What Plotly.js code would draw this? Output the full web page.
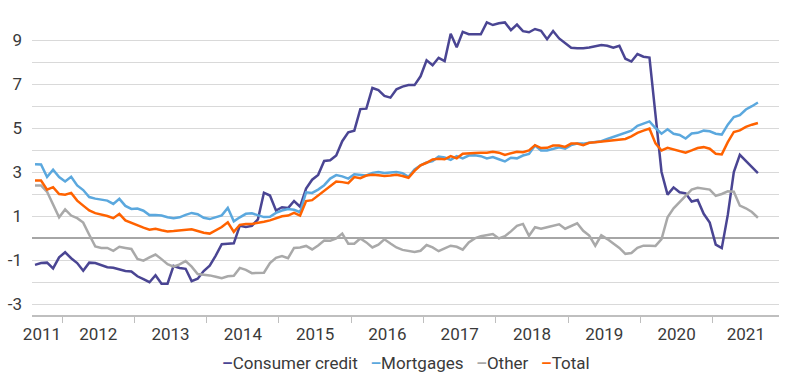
<!DOCTYPE html>
<html><head><meta charset="utf-8">
<script src="https://cdn.plot.ly/plotly-3.0.1.min.js"></script>
<style>html,body{margin:0;padding:0;background:#fff}#chart{width:800px;height:384px}</style>
</head><body><div id="chart"></div>
<script>
// Monthly data, first month Aug 2011, last month Aug 2021 (% YoY)
const firstYear = 2011;
const firstMonth = 8;
const lastAxisMonthIndex = 123; // axis runs through Nov 2021
const yearLabels = ['2011','2012','2013','2014','2015','2016','2017','2018','2019','2020','2021'];
const seriesNames = ['Consumer credit','Mortgages','Other','Total'];

const consumerCredit = [-1.22,-1.14,-1.12,-1.38,-0.88,-0.65,-0.92,-1.14,-1.49,-1.12,
 -1.14,-1.25,-1.33,-1.35,-1.43,-1.5,-1.52,-1.74,-1.87,-2.01,
 -1.69,-2.08,-2.08,-1.27,-1.36,-1.4,-1.96,-1.85,-1.5,-1.26,
 -0.8,-0.28,-0.26,-0.24,0.56,0.5,0.55,0.85,2.06,1.93,
 1.25,1.4,1.36,1.68,1.42,2.25,2.65,2.87,3.5,3.53,
 3.75,4.4,4.8,4.88,5.86,5.88,6.82,6.72,6.46,6.38,
 6.76,6.88,6.95,6.95,7.35,8.08,7.85,8.19,8.04,9.28,
 8.67,9.37,9.26,9.25,9.26,9.8,9.68,9.76,9.8,9.45,
 9.7,9.4,9.35,9.5,9.42,9.04,9.41,9.07,8.84,8.65,
 8.62,8.62,8.66,8.72,8.77,8.74,8.65,8.74,8.15,8.02,
 8.36,8.24,8.2,5.6,3.0,1.97,2.3,2.08,2.03,1.66,
 1.73,1.1,0.7,-0.3,-0.46,1.05,3.0,3.78,3.5,3.22,
 2.95];

const mortgages = [3.35,3.34,2.77,3.1,2.77,2.57,2.78,2.39,2.18,1.86,
 1.79,1.76,1.70,1.55,1.78,1.46,1.32,1.34,1.24,1.04,
 1.05,1.02,0.94,0.9,0.94,1.05,1.14,1.08,0.92,0.86,
 0.93,1.03,1.37,0.76,0.94,1.1,1.12,1.02,0.95,0.96,
 1.14,1.25,1.32,1.28,1.17,2.08,2.05,2.2,2.4,2.7,
 2.86,2.8,2.7,2.9,2.86,2.84,2.96,3.0,2.96,2.98,
 3.0,2.95,2.78,3.12,3.3,3.43,3.5,3.7,3.66,3.55,
 3.72,3.62,3.75,3.76,3.72,3.62,3.68,3.58,3.48,3.65,
 3.62,3.75,3.82,4.2,3.98,3.98,4.06,4.12,4.06,4.22,
 4.29,4.29,4.33,4.38,4.4,4.5,4.6,4.68,4.8,4.88,
 5.1,5.2,5.3,5.0,4.74,4.94,4.74,4.68,4.52,4.75,
 4.78,4.88,4.85,4.74,4.7,5.15,5.5,5.58,5.84,5.99,
 6.16];

const other = [2.39,2.39,2.1,1.5,0.94,1.3,1.02,0.9,0.7,0.15,
 -0.38,-0.45,-0.45,-0.58,-0.4,-0.45,-0.5,-0.95,-1.03,-0.88,
 -0.75,-0.96,-1.19,-1.3,-1.2,-1.05,-1.3,-1.64,-1.66,-1.7,
 -1.76,-1.83,-1.74,-1.72,-1.36,-1.45,-1.6,-1.6,-1.58,-1.14,
 -0.9,-0.82,-0.92,-0.45,-0.43,-0.36,-0.52,-0.34,-0.12,-0.13,
 -0.02,0.2,-0.26,-0.26,-0.02,-0.2,-0.43,-0.3,-0.06,-0.25,
 -0.43,-0.54,-0.6,-0.64,-0.58,-0.32,-0.43,-0.6,-0.47,-0.35,
 -0.4,-0.53,-0.2,-0.02,0.08,0.13,0.18,-0.02,0.08,0.3,
 0.55,0.64,0.1,0.49,0.42,0.49,0.56,0.62,0.42,0.56,
 0.67,0.33,0.11,-0.35,0.12,-0.05,-0.25,-0.45,-0.72,-0.68,
 -0.45,-0.35,-0.35,-0.36,-0.05,0.94,1.35,1.65,1.93,2.2,
 2.28,2.23,2.2,1.92,2.0,2.12,2.1,1.47,1.35,1.18,
 0.92];

const total = [2.61,2.61,2.2,2.31,2.0,1.97,2.05,1.7,1.47,1.25,
 1.13,1.07,1.0,0.9,1.1,0.8,0.68,0.57,0.47,0.38,
 0.42,0.35,0.3,0.32,0.35,0.38,0.4,0.32,0.24,0.2,
 0.35,0.5,0.71,0.28,0.6,0.64,0.64,0.68,0.74,0.8,
 0.9,0.99,1.02,1.14,1.02,1.68,1.72,1.93,2.16,2.39,
 2.57,2.54,2.49,2.77,2.72,2.84,2.87,2.85,2.82,2.84,
 2.87,2.82,2.74,3.05,3.3,3.42,3.57,3.6,3.58,3.72,
 3.62,3.83,3.83,3.86,3.88,3.88,3.92,3.88,3.78,3.85,
 3.92,3.9,3.98,4.22,4.09,4.1,4.2,4.2,4.14,4.29,
 4.29,4.22,4.33,4.35,4.38,4.4,4.44,4.48,4.5,4.62,
 4.78,4.88,4.97,4.3,3.98,4.1,4.03,3.98,3.88,3.98,
 4.09,4.13,4.06,3.83,3.8,4.36,4.82,4.89,5.05,5.15,
 5.23];

const colors = ['#4A4593', '#5BA8DE', '#A9A9A9', '#FF6200'];
const allSeries = [consumerCredit, mortgages, other, total];

// month index axis: 0 = Aug 2011
const n = consumerCredit.length;
const x = Array.from({length: n}, (_, i) => i);
const axisMin = -0.5, axisMax = lastAxisMonthIndex + 0.5;

// year boundaries (minor ticks) and label centres
const boundaries = [];
const labelPos = [];
yearLabels.forEach((yl, k) => {
  const yr = parseInt(yl, 10);
  const first = (yr - firstYear) * 12 + (1 - firstMonth);
  const s = Math.max(axisMin, first - 0.5);
  const e = Math.min(axisMax, first + 11.5);
  if (first - 0.5 > axisMin) boundaries.push(first - 0.5);
  labelPos.push(k === 0 ? s + (e - s) * 0.33 : (s + e) / 2);
});

const traces = allSeries.map((ys, k) => ({
  type: 'scatter', mode: 'lines', name: seriesNames[k],
  x: x, y: ys,
  line: {color: colors[k], width: 2.5},
  hoverinfo: 'skip', showlegend: false
}));

const gridVals = [];
const gridText = [];
for (let v = -3; v <= 10; v++) { gridVals.push(v); gridText.push(Math.abs(v) % 2 === 1 ? String(v) : ''); }

const legendText = seriesNames.map((nm, k) =>
  '<span style="color:' + colors[k] + '"><b>\u2013</b></span>' + nm).join('\u00A0\u00A0\u00A0');

const layout = {
  width: 800, height: 384,
  margin: {l: 32, r: 21, t: 18, b: 69},
  paper_bgcolor: '#ffffff', plot_bgcolor: '#ffffff',
  showlegend: false,
  font: {family: 'Roboto, sans-serif', size: 17, color: '#3a3a3a'},
  xaxis: {
    range: [axisMin, axisMax], tickmode: 'array', tickvals: labelPos, ticktext: yearLabels,
    ticks: '', showgrid: false, zeroline: false, showline: true, linecolor: '#BFBFBF', linewidth: 1.5,
    ticklabelstandoff: 3,
    minor: {tickmode: 'array', tickvals: boundaries, ticks: 'outside', ticklen: 6, tickcolor: '#BFBFBF', tickwidth: 1, showgrid: false}
  },
  yaxis: {
    range: [-3.5, 10], tickmode: 'array', tickvals: gridVals, ticktext: gridText,
    showgrid: true, gridcolor: '#D9D9D9', gridwidth: 1,
    zeroline: true, zerolinecolor: '#A6A6A6', zerolinewidth: 1.5,
    showline: false, ticks: '', ticklabelstandoff: 9
  },
  annotations: [{
    xref: 'paper', yref: 'paper', x: 0.5, y: -0.162, xanchor: 'center', yanchor: 'middle',
    showarrow: false, text: legendText, font: {size: 17, color: '#3a3a3a'}
  }]
};

Plotly.newPlot('chart', traces, layout, {displayModeBar: false, staticPlot: true});
</script>
</body></html>
